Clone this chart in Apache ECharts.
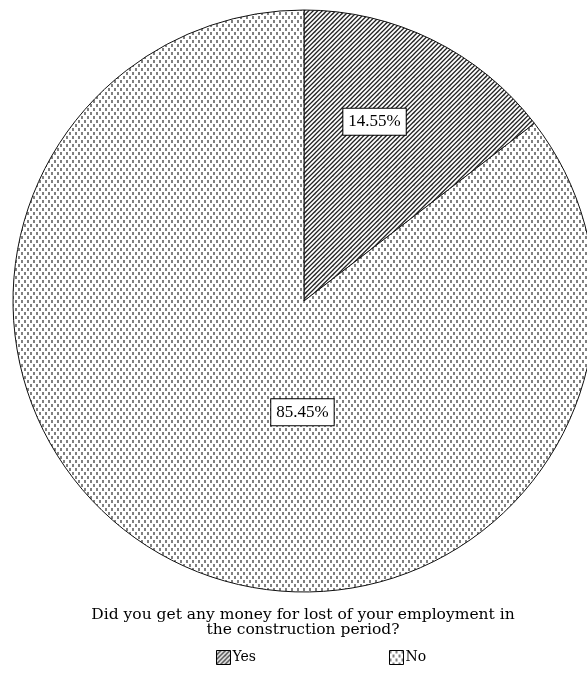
<!DOCTYPE html>
<html>
<head>
<meta charset="utf-8">
<script src="https://cdn.jsdelivr.net/npm/echarts@6/dist/echarts.min.js"></script>
<style>
html,body{margin:0;padding:0;background:#fff;}
#chart{width:587px;height:677px;}
</style>
</head>
<body>
<div id="chart"></div>
<script>
const categories = ['Yes', 'No'];
const percentages = [14.55, 85.45];
const titleLines = ['Did you get any money for lost of your employment in', 'the construction period?'];

function hatchPattern() {
  const c = document.createElement('canvas');
  c.width = 9; c.height = 9;
  const g = c.getContext('2d');
  g.fillStyle = '#fff'; g.fillRect(0, 0, 9, 9);
  g.strokeStyle = '#222'; g.lineWidth = 1.3;
  for (let k = -9; k <= 18; k += 4.5) {
    g.beginPath(); g.moveTo(k - 1, 10); g.lineTo(k + 10, -1); g.stroke();
  }
  return c;
}
function dotPattern() {
  const c = document.createElement('canvas');
  c.width = 6; c.height = 8;
  const g = c.getContext('2d');
  g.fillStyle = '#fff'; g.fillRect(0, 0, 6, 8);
  g.fillStyle = '#808080';
  g.fillRect(0, 0, 2, 3);
  g.fillRect(3, 4, 2, 3);
  return c;
}
const patterns = [
  { image: hatchPattern(), repeat: 'repeat' },
  { image: dotPattern(), repeat: 'repeat' }
];
const labelShift = [[5, -46], [64, -22]];

const chart = echarts.init(document.getElementById('chart'), null, { renderer: 'canvas' });
chart.setOption({
  animation: false,
  backgroundColor: '#fff',
  title: {
    text: titleLines.join('\n'),
    left: 298,
    top: 602,
    textAlign: 'center',
    textStyle: { fontFamily: 'DejaVu Serif', fontSize: 15.5, fontWeight: 'normal', color: '#000', lineHeight: 15 }
  },
  legend: {
    left: 216,
    top: 650,
    padding: 0,
    itemWidth: 14,
    itemHeight: 14,
    itemGap: 133,
    icon: 'rect',
    data: categories,
    textStyle: { fontFamily: 'DejaVu Serif', fontSize: 14, color: '#000', padding: [0, 0, 0, -3] },
    itemStyle: { borderColor: '#000', borderWidth: 1 }
  },
  series: [{
    type: 'pie',
    center: [304, 301],
    radius: [0, 291],
    startAngle: 90,
    clockwise: true,
    silent: true,
    data: categories.map((n, i) => ({
      name: n, value: percentages[i],
      itemStyle: { color: patterns[i] }
    })),
    itemStyle: { borderColor: '#111', borderWidth: 1 },
    label: {
      show: true,
      position: 'inside',
      formatter: p => p.value.toFixed(2) + '%',
      fontFamily: 'Liberation Serif',
      fontSize: 17,
      color: '#000',
      backgroundColor: '#fff',
      borderColor: '#000',
      borderWidth: 1,
      padding: [5, 5, 4, 5]
    },
    labelLayout: p => ({ dx: labelShift[p.dataIndex][0], dy: labelShift[p.dataIndex][1] }),
    labelLine: { show: false }
  }]
});
</script>
</body>
</html>
